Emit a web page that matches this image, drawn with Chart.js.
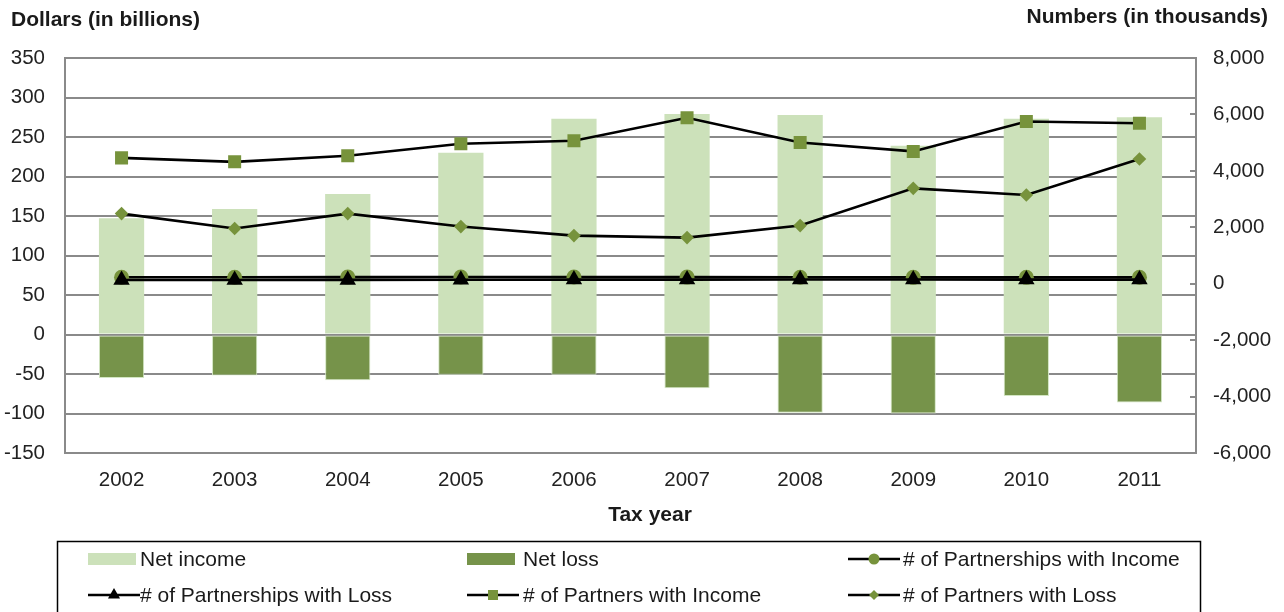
<!DOCTYPE html>
<html>
<head>
<meta charset="utf-8">
<script src="https://cdn.jsdelivr.net/npm/chart.js@4"></script>
<style>
  html, body { margin: 0; padding: 0; background: #fff; }
  #chart { display: block; }
</style>
</head>
<body>
<canvas id="chart" width="1284" height="612"></canvas>
<script>
// data
var years = ['2002', '2003', '2004', '2005', '2006', '2007', '2008', '2009', '2010', '2011'];
var netIncome = [147, 159, 178, 230, 273, 279, 278, 239, 273, 275];   // $ billions
var netLoss = [-55, -52, -58, -51, -51, -68, -99, -100, -78, -86];     // $ billions
var partnershipsIncome = [230, 230, 235, 240, 240, 235, 230, 225, 225, 230];  // thousands
var partnershipsLoss = [130, 130, 135, 140, 145, 145, 150, 150, 145, 145];    // thousands
var partnersIncome = [4460, 4320, 4535, 4960, 5065, 5880, 5005, 4690, 5750, 5690];
var partnersLoss = [2485, 1955, 2485, 2025, 1705, 1635, 2060, 3380, 3145, 4420];

var leftTicks = [-150, -100, -50, 0, 50, 100, 150, 200, 250, 300, 350];
var rightTicks = [-6000, -4000, -2000, 0, 2000, 4000, 6000, 8000];

var FONT = "'Liberation Sans', Arial, sans-serif";
var GRID = '#8a8a8a';
var LIGHT = '#cce1ba';
var DARK = '#76934a';
var MARK = '#77933c';

function drawMarker(ctx, style, x, y, r, fill) {
  ctx.save();
  ctx.fillStyle = fill;
  ctx.beginPath();
  if (style == 'circle') {
    ctx.arc(x, y, r, 0, Math.PI * 2);
  } else if (style == 'triangle') {
    ctx.moveTo(x, y - r);
    ctx.lineTo(x + r * 0.866, y + r * 0.5);
    ctx.lineTo(x - r * 0.866, y + r * 0.5);
  } else if (style == 'rect') {
    ctx.rect(x - r, y - r, r * 2, r * 2);
  } else if (style == 'rectRot') {
    ctx.moveTo(x, y - r);
    ctx.lineTo(x + r, y);
    ctx.lineTo(x, y + r);
    ctx.lineTo(x - r, y);
  }
  ctx.closePath();
  ctx.fill();
  ctx.restore();
}

// axis titles + boxed legend, drawn on the canvas
var extras = {
  id: 'extras',
  afterDraw: function(chart) {
    var ctx = chart.ctx;
    ctx.save();
    ctx.fillStyle = '#1a1a1a';
    ctx.font = 'bold 21px ' + FONT;
    ctx.textBaseline = 'middle';
    ctx.textAlign = 'left';
    ctx.fillText('Dollars (in billions)', 11, 20);
    ctx.textAlign = 'right';
    ctx.fillText('Numbers (in thousands)', 1268, 17);
    ctx.textAlign = 'center';
    ctx.fillText('Tax year', 650, 515);

    // legend box
    ctx.strokeStyle = '#000';
    ctx.lineWidth = 1.5;
    ctx.strokeRect(57.5, 541.5, 1143, 90);

    var rowsY = [559, 595];
    var colX = [88, 467, 848];
    var textX = [140, 523, 903];
    var small = {circle: 5.5, triangle: 7, rect: 5, rectRot: 5};
    ctx.font = '21px ' + FONT;
    ctx.textAlign = 'left';
    chart.data.datasets.forEach(function(ds, i) {
      var row = Math.floor(i / 3), col = i % 3;
      var y = rowsY[row], x = colX[col];
      if (ds.type == 'bar') {
        ctx.fillStyle = ds.backgroundColor;
        ctx.fillRect(x, y - 6, 48, 12);
      } else {
        ctx.strokeStyle = '#000';
        ctx.lineWidth = 2.5;
        ctx.beginPath();
        ctx.moveTo(x, y);
        ctx.lineTo(x + 52, y);
        ctx.stroke();
        drawMarker(ctx, ds.pointStyle, x + 26, y, small[ds.pointStyle], ds.pointBackgroundColor);
      }
      ctx.fillStyle = '#1a1a1a';
      ctx.fillText(ds.label, textX[col], y + 1);
    });
    ctx.restore();
  }
};

var lineBase = {
  type: 'line',
  yAxisID: 'y1',
  borderColor: '#000',
  borderWidth: 2.6,
  tension: 0,
  fill: false
};

new Chart(document.getElementById('chart').getContext('2d'), {
  data: {
    labels: years,
    datasets: [
      {type: 'bar', label: 'Net income', data: netIncome, backgroundColor: LIGHT, grouped: false,
       barPercentage: 0.4, categoryPercentage: 1, order: 10, yAxisID: 'y'},
      {type: 'bar', label: 'Net loss', data: netLoss, backgroundColor: DARK, grouped: false,
       borderColor: '#d3e6c3', borderWidth: 1, borderSkipped: false,
       barPercentage: 0.4, categoryPercentage: 1, order: 10, yAxisID: 'y'},
      Object.assign({}, lineBase, {label: '# of Partnerships with Income', data: partnershipsIncome,
       pointStyle: 'circle', pointRadius: 7.5, pointBackgroundColor: MARK, pointBorderWidth: 0, order: 3}),
      Object.assign({}, lineBase, {label: '# of Partnerships with Loss', data: partnershipsLoss,
       pointStyle: 'triangle', pointRadius: 9.5, pointBackgroundColor: '#000', pointBorderWidth: 0, order: 1}),
      Object.assign({}, lineBase, {label: '# of Partners with Income', data: partnersIncome,
       pointStyle: 'rect', pointRadius: 9.2, pointBackgroundColor: MARK, pointBorderWidth: 0, order: 2}),
      Object.assign({}, lineBase, {label: '# of Partners with Loss', data: partnersLoss,
       pointStyle: 'rectRot', pointRadius: 6.8, pointBackgroundColor: MARK, pointBorderWidth: 0, order: 2})
    ]
  },
  options: {
    responsive: false,
    animation: false,
    devicePixelRatio: 1,
    layout: {padding: {top: 58, left: 0, right: 0, bottom: 0}},
    plugins: {legend: {display: false}, tooltip: {enabled: false}},
    scales: {
      x: {
        grid: {display: false, drawTicks: false},
        border: {display: true, color: GRID, width: 2},
        ticks: {font: {family: FONT, size: 20.5}, color: '#222', padding: 15},
        afterFit: function(s) { s.height = 612 - 453; }
      },
      y: {
        position: 'left',
        min: -150, max: 350,
        afterBuildTicks: function(s) { s.ticks = leftTicks.map(function(v) { return {value: v}; }); },
        grid: {color: GRID, lineWidth: 2, drawTicks: false},
        border: {display: true, color: GRID, width: 2},
        ticks: {font: {family: FONT, size: 20.5}, color: '#222', padding: 20},
        afterFit: function(s) { s.width = 65; }
      },
      y1: {
        position: 'right',
        min: -6000, max: 8000,
        afterBuildTicks: function(s) { s.ticks = rightTicks.map(function(v) { return {value: v}; }); },
        grid: {drawOnChartArea: false, color: GRID, lineWidth: 2, tickLength: -6},
        border: {display: true, color: GRID, width: 2},
        ticks: {font: {family: FONT, size: 20.5}, color: '#222', padding: 23,
          callback: function(v) { return Number(v).toLocaleString('en-US'); }},
        afterFit: function(s) { s.width = 1284 - 1196; }
      }
    }
  },
  plugins: [extras]
});
</script>
</body>
</html>
